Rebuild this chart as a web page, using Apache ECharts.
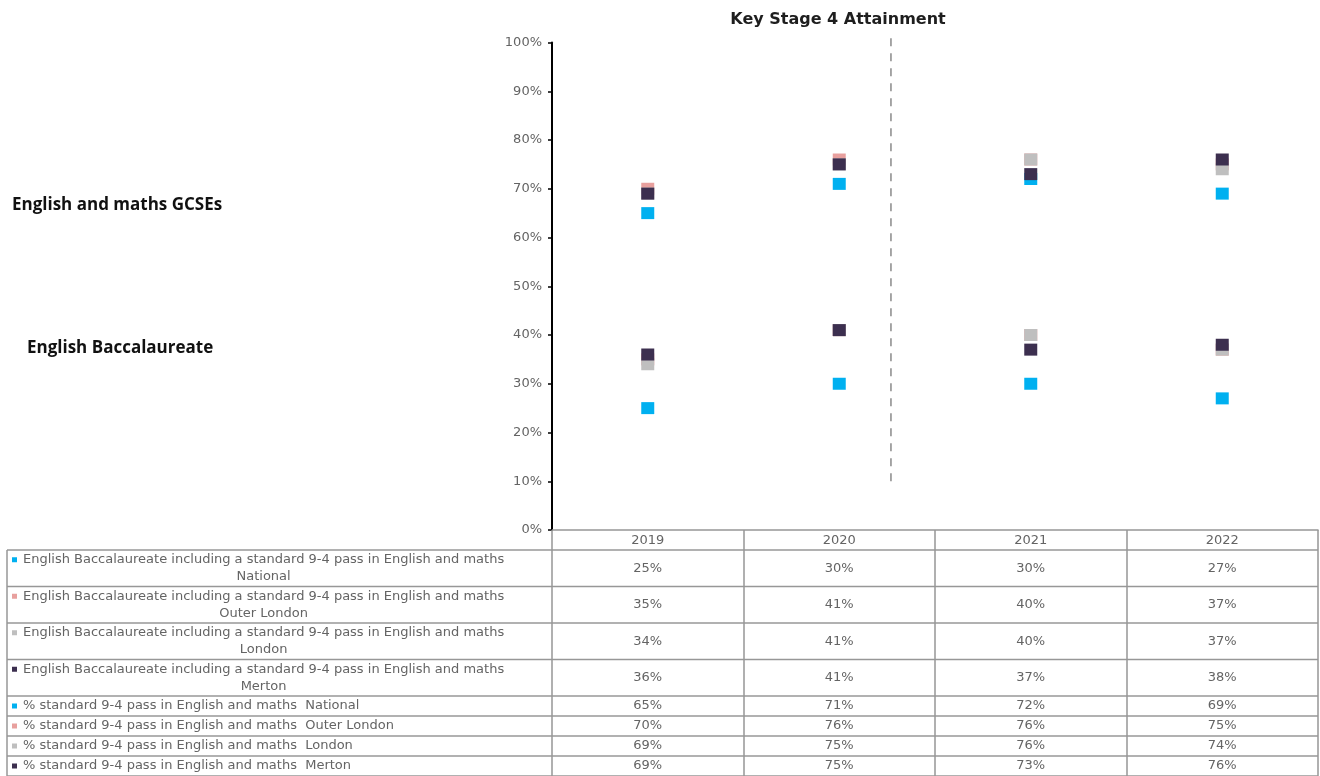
<!DOCTYPE html>
<html>
<head>
<meta charset="utf-8">
<title>Key Stage 4 Attainment</title>
<script src="https://cdn.jsdelivr.net/npm/echarts@6/dist/echarts.min.js"></script>
<style>
  html, body { margin: 0; padding: 0; background: #ffffff; }
  #chart { width: 1320px; height: 776px; }
</style>
</head>
<body>
<div id="chart"></div>
<script>
// ---- data ----
const years = ['2019', '2020', '2021', '2022'];
const areas = ['National', 'Outer London', 'London', 'Merton'];

const ebaccNational = [25, 30, 30, 27];
const ebaccOuterLondon = [35, 41, 40, 37];
const ebaccLondon = [34, 41, 40, 37];
const ebaccMerton = [36, 41, 37, 38];

const gcseNational = [65, 71, 72, 69];
const gcseOuterLondon = [70, 76, 76, 75];
const gcseLondon = [69, 75, 76, 74];
const gcseMerton = [69, 75, 73, 76];

const ebaccLabel = 'English Baccalaureate including a standard 9-4 pass in English and maths';
const gcseLabel = '% standard 9-4 pass in English and maths';
const groupLabels = ['English and maths GCSEs', 'English Baccalaureate'];
const chartTitle = 'Key Stage 4 Attainment';

// ---- styling / layout ----
const areaColors = ['#00B0F0', '#E8A09E', '#BFBFBF', '#3C2F4F'];
const smallFont = 'DejaVu Sans';
const smallSize = 13;
const textGrey = '#646464';
const ruleGrey = '#979797';

const gridLeft = 552, gridRight = 1318, gridTop = 42.5, gridBottom = 530;
const headerBottom = 550;
const tableLeft = 7;
const tallRow = 36.5, shortRow = 20;

// dashed divider between the earlier and later years (category-index position)
const dividerPos = 1.27;
const dividerSpan = [10, 102];

const rowDefs = [
  { label: ebaccLabel, area: areas[0], values: ebaccNational, color: areaColors[0], tall: true },
  { label: ebaccLabel, area: areas[1], values: ebaccOuterLondon, color: areaColors[1], tall: true },
  { label: ebaccLabel, area: areas[2], values: ebaccLondon, color: areaColors[2], tall: true },
  { label: ebaccLabel, area: areas[3], values: ebaccMerton, color: areaColors[3], tall: true },
  { label: gcseLabel, area: areas[0], values: gcseNational, color: areaColors[0], tall: false },
  { label: gcseLabel, area: areas[1], values: gcseOuterLondon, color: areaColors[1], tall: false },
  { label: gcseLabel, area: areas[2], values: gcseLondon, color: areaColors[2], tall: false },
  { label: gcseLabel, area: areas[3], values: gcseMerton, color: areaColors[3], tall: false }
];

const chart = echarts.init(document.getElementById('chart'), null, { renderer: 'canvas' });

const scatterSeries = rowDefs.map(r => ({
  type: 'scatter',
  name: r.label + ' ' + r.area,
  data: r.values,
  symbol: 'rect',
  symbolSize: [13, 12],
  itemStyle: { color: r.color, opacity: 1 },
  emphasis: { disabled: true },
  silent: true,
  animation: false
}));

chart.setOption({
  animation: false,
  backgroundColor: '#ffffff',
  grid: {
    left: gridLeft,
    right: 1320 - gridRight,
    top: gridTop,
    bottom: 776 - gridBottom,
    containLabel: false
  },
  xAxis: [
    {
      type: 'category',
      data: years,
      boundaryGap: true,
      axisLine: { show: true, onZero: false, lineStyle: { color: ruleGrey, width: 1.5 } },
      axisTick: { show: true, alignWithLabel: false, length: 776 - gridBottom, lineStyle: { color: ruleGrey, width: 1.5 } },
      axisLabel: { color: textGrey, fontFamily: smallFont, fontSize: smallSize, margin: 4 },
      splitLine: { show: false }
    },
    {
      type: 'value',
      min: -0.5,
      max: 3.5,
      show: false
    }
  ],
  yAxis: {
    type: 'value',
    min: 0,
    max: 100,
    interval: 10,
    axisLine: { show: true, onZero: false, lineStyle: { color: '#000000', width: 2 } },
    axisTick: { show: true, length: 4, lineStyle: { color: '#000000', width: 1.5 } },
    axisLabel: {
      formatter: '{value}%',
      color: textGrey,
      fontFamily: smallFont,
      fontSize: smallSize,
      margin: 10
    },
    splitLine: { show: false }
  },
  series: scatterSeries.concat([
    {
      type: 'line',
      name: 'divider',
      xAxisIndex: 1,
      yAxisIndex: 0,
      data: [[dividerPos, dividerSpan[0]], [dividerPos, dividerSpan[1]]],
      symbol: 'none',
      clip: false,
      silent: true,
      lineStyle: { color: '#8a8a8a', width: 1.5, type: [8, 7] },
      z: 1
    }
  ])
});

// ---- data table under the axis, plus side labels and title ----
const measure = (() => {
  const ctx = document.createElement('canvas').getContext('2d');
  return (text, font) => { ctx.font = font; return ctx.measureText(text).width; };
})();

const graphics = [];

graphics.push({
  type: 'text',
  x: 838, y: 20,
  style: {
    text: chartTitle,
    fill: '#1e1e1e',
    font: 'bold 16px "DejaVu Sans"',
    textAlign: 'center',
    textVerticalAlign: 'middle'
  }
});

graphics.push({
  type: 'text', x: 12, y: 205,
  style: { text: groupLabels[0], fill: '#111111', font: 'bold 17px "Open Sans"', textVerticalAlign: 'middle' }
});
graphics.push({
  type: 'text', x: 27, y: 348,
  style: { text: groupLabels[1], fill: '#111111', font: 'bold 17px "Open Sans"', textVerticalAlign: 'middle' }
});

const ruleStyle = { stroke: ruleGrey, lineWidth: 1.5 };
graphics.push({ type: 'line', shape: { x1: tableLeft, y1: headerBottom, x2: gridRight, y2: headerBottom }, style: ruleStyle });
graphics.push({ type: 'line', shape: { x1: tableLeft, y1: headerBottom, x2: tableLeft, y2: 776 }, style: ruleStyle });

const colCenters = years.map(y => chart.convertToPixel({ xAxisIndex: 0 }, y));
const smallCss = smallSize + 'px "' + smallFont + '"';

let rowTop = headerBottom;
rowDefs.forEach(r => {
  const h = r.tall ? tallRow : shortRow;
  const rowBottom = rowTop + h;
  const mid = rowTop + h / 2;
  graphics.push({ type: 'line', shape: { x1: tableLeft, y1: rowBottom, x2: gridRight, y2: rowBottom }, style: ruleStyle });

  const line1Y = r.tall ? mid - 8.5 : mid;
  graphics.push({
    type: 'rect',
    shape: { x: 12, y: line1Y - 2.5, width: 5, height: 5 },
    style: { fill: r.color }
  });
  if (r.tall) {
    const w1 = measure(r.label, smallCss);
    graphics.push({
      type: 'text', x: 23, y: line1Y,
      style: { text: r.label, fill: textGrey, font: smallCss, textVerticalAlign: 'middle' }
    });
    graphics.push({
      type: 'text', x: 23 + w1 / 2, y: mid + 8.5,
      style: { text: r.area, fill: textGrey, font: smallCss, textAlign: 'center', textVerticalAlign: 'middle' }
    });
  } else {
    graphics.push({
      type: 'text', x: 23, y: mid,
      style: { text: r.label + '  ' + r.area, fill: textGrey, font: smallCss, textVerticalAlign: 'middle' }
    });
  }

  r.values.forEach((v, i) => {
    graphics.push({
      type: 'text', x: colCenters[i], y: mid,
      style: { text: v + '%', fill: textGrey, font: smallCss, textAlign: 'center', textVerticalAlign: 'middle' }
    });
  });
  rowTop = rowBottom;
});

chart.setOption({ graphic: { elements: graphics } });
</script>
</body>
</html>
